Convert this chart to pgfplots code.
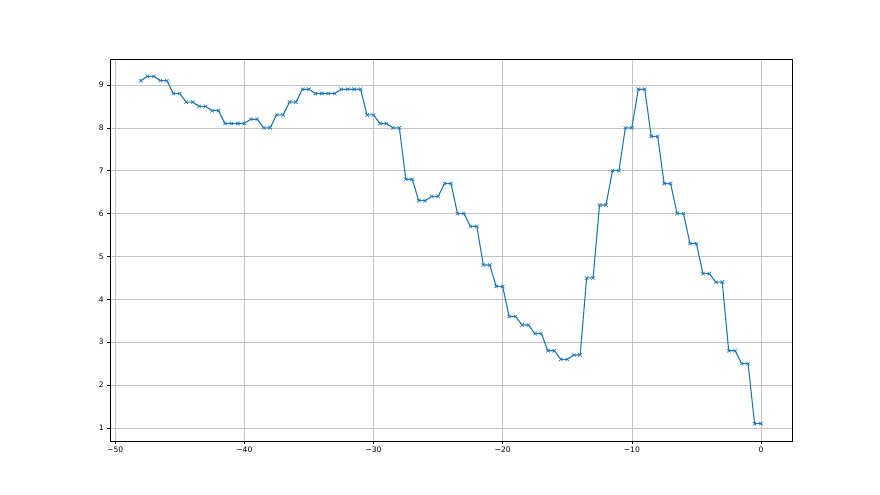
\documentclass[border=0pt]{standalone}
\usepackage{fontspec}
\setmainfont{DejaVu Sans}
\usepackage{pgfplots}
\pgfplotsset{compat=1.18}
\definecolor{mplblue}{HTML}{1F77B4}
\definecolor{gridgray}{HTML}{C4C4C4}

\begin{document}
\begin{tikzpicture}
\useasboundingbox (-110bp,-54bp) rectangle (770bp,441bp);
\begin{axis}[
at={(0,0)}, anchor=south west,
scale only axis,
width=682bp, height=382bp,
xmin=-50.4, xmax=2.4,
ymin=0.695, ymax=9.605,
xtick={-50,-40,-30,-20,-10,0},
xticklabels={−50,−40,−30,−20,−10,0},
ytick={1,2,3,4,5,6,7,8,9},
grid=major,
grid style={gridgray, line width=0.5pt},
axis line style={line width=0.6pt},
tick style={black, line width=0.6pt},
tick align=outside,
major tick length=2.7bp,
xtick pos=bottom, ytick pos=left,
tick label style={font=\fontsize{7.6}{9}\selectfont},
/pgf/number format/assume math mode=true,
]
\addplot[mplblue, line width=1.1pt, mark=x, mark size=2.5pt,
  mark options={line width=0.6pt}] table {
x y
-48 9.1
-47.5 9.2
-47 9.2
-46.5 9.1
-46 9.1
-45.5 8.8
-45 8.8
-44.5 8.6
-44 8.6
-43.5 8.5
-43 8.5
-42.5 8.4
-42 8.4
-41.5 8.1
-41 8.1
-40.5 8.1
-40 8.1
-39.5 8.2
-39 8.2
-38.5 8.0
-38 8.0
-37.5 8.3
-37 8.3
-36.5 8.6
-36 8.6
-35.5 8.9
-35 8.9
-34.5 8.8
-34 8.8
-33.5 8.8
-33 8.8
-32.5 8.9
-32 8.9
-31.5 8.9
-31 8.9
-30.5 8.3
-30 8.3
-29.5 8.1
-29 8.1
-28.5 8.0
-28 8.0
-27.5 6.8
-27 6.8
-26.5 6.3
-26 6.3
-25.5 6.4
-25 6.4
-24.5 6.7
-24 6.7
-23.5 6.0
-23 6.0
-22.5 5.7
-22 5.7
-21.5 4.8
-21 4.8
-20.5 4.3
-20 4.3
-19.5 3.6
-19 3.6
-18.5 3.4
-18 3.4
-17.5 3.2
-17 3.2
-16.5 2.8
-16 2.8
-15.5 2.6
-15 2.6
-14.5 2.7
-14 2.7
-13.5 4.5
-13 4.5
-12.5 6.2
-12 6.2
-11.5 7.0
-11 7.0
-10.5 8.0
-10 8.0
-9.5 8.9
-9 8.9
-8.5 7.8
-8 7.8
-7.5 6.7
-7 6.7
-6.5 6.0
-6 6.0
-5.5 5.3
-5 5.3
-4.5 4.6
-4 4.6
-3.5 4.4
-3 4.4
-2.5 2.8
-2 2.8
-1.5 2.5
-1 2.5
-0.5 1.1
0 1.1
};
\end{axis}
\end{tikzpicture}
\end{document}
